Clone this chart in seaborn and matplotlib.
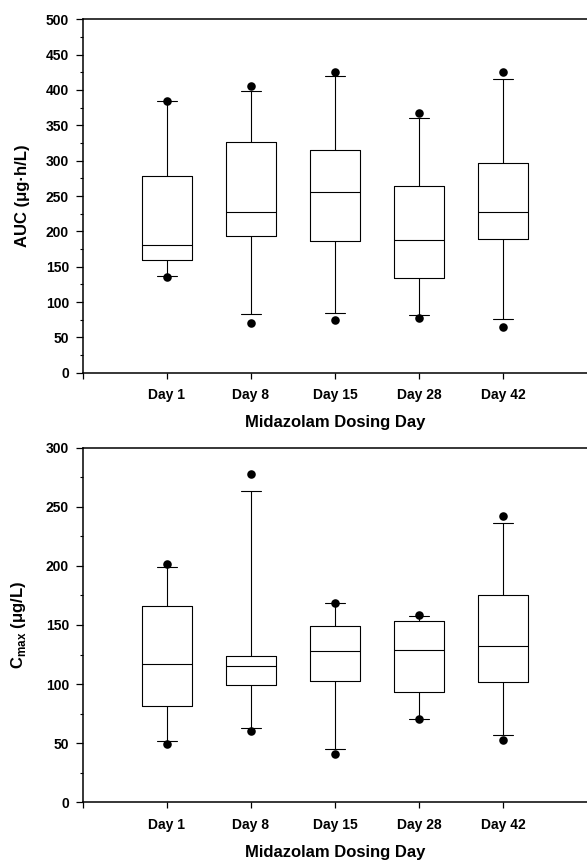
import numpy as np
import pandas as pd
import matplotlib
matplotlib.use("Agg")
import matplotlib.pyplot as plt
from matplotlib.ticker import MultipleLocator
import seaborn as sns

# values (percentiles per dosing day)
days = ["Day 1", "Day 8", "Day 15", "Day 28", "Day 42"]

auc_p5 = [136, 71, 75, 78, 65]
auc_p10 = [137, 83, 84, 82, 76]
auc_q1 = [159, 193, 187, 134, 189]
auc_med = [180, 228, 255, 188, 227]
auc_q3 = [279, 326, 315, 264, 297]
auc_p90 = [384, 399, 420, 361, 415]
auc_p95 = [385, 406, 425, 368, 425]

cmax_p5 = [49.6, 60.6, 41, 70.2, 52.6]
cmax_p10 = [51.6, 63, 45.4, 70.8, 57]
cmax_q1 = [81.5, 99, 103, 93, 101.5]
cmax_med = [117, 115, 127.7, 128.8, 132]
cmax_q3 = [166, 124, 149.5, 153.7, 175]
cmax_p90 = [199, 263, 168.5, 157.6, 236]
cmax_p95 = [201.6, 278, 169, 158.4, 242.6]

sns.set_theme(style="ticks")
plt.rcParams["font.family"] = ["Liberation Sans", "DejaVu Sans"]
plt.rcParams["font.weight"] = "bold"
plt.rcParams["mathtext.fontset"] = "custom"
plt.rcParams["mathtext.rm"] = "Liberation Sans:bold"
plt.rcParams["mathtext.bf"] = "Liberation Sans:bold"
for k in ["text.color", "axes.labelcolor", "xtick.color", "ytick.color"]:
    plt.rcParams[k] = "black"


def box_panel(ax, p5, p10, q1, med, q3, p90, p95, ylim, ylabel, ylabel_x):
    pos = np.arange(len(days))
    stats = []
    for i in range(len(days)):
        stats.append({"med": med[i], "q1": q1[i], "q3": q3[i],
                      "whislo": p10[i], "whishi": p90[i], "fliers": []})
    line = dict(color="black", linewidth=0.8)
    ax.bxp(stats, positions=pos, widths=0.6, capwidths=0.23,
           showfliers=False, boxprops=line, whiskerprops=line,
           capprops=line, medianprops=line)

    fl = pd.DataFrame({"pos": np.concatenate([pos, pos]),
                       "val": np.concatenate([p5, p95])})
    sns.scatterplot(data=fl, x="pos", y="val", ax=ax, color="black",
                    s=38, edgecolor="black", linewidth=0, zorder=3, legend=False)

    ax.set_xlim(-1, 5)
    ax.set_ylim(*ylim)
    ax.set_xticks(np.arange(-1, len(days)))
    ax.set_xticklabels([""] + days, fontsize=10, fontweight="bold")
    ax.yaxis.set_major_locator(MultipleLocator(50))
    ax.yaxis.set_minor_locator(MultipleLocator(25))
    for lab in ax.get_yticklabels():
        lab.set_fontsize(10)
        lab.set_fontweight("bold")
    ax.tick_params(axis="y", which="major", length=5, width=0.9, pad=5, direction="out")
    ax.tick_params(axis="y", which="minor", length=2.5, width=0.8, direction="out")
    ax.tick_params(axis="x", which="major", length=4, width=0.9, pad=7, direction="out")

    for s in ["left", "bottom", "top"]:
        ax.spines[s].set_linewidth(1.1)
        ax.spines[s].set_color("black")
    ax.spines["right"].set_visible(False)

    ax.set_xlabel("Midazolam Dosing Day", fontsize=12, fontweight="bold")
    ax.xaxis.set_label_coords(0.5, -0.12)
    ax.set_ylabel(ylabel, fontsize=12, fontweight="bold")
    ax.yaxis.label.set_va("center")
    ax.yaxis.set_label_coords(ylabel_x, 0.5)
    ax.set_facecolor("white")


fig = plt.figure(figsize=(5.87, 8.6), dpi=100)
ax1 = fig.add_axes([83 / 587, 1 - 372.7 / 860, 1 - 83 / 587, 353.4 / 860])
ax2 = fig.add_axes([83 / 587, 1 - 802.3 / 860, 1 - 83 / 587, 354.6 / 860])

box_panel(ax1, auc_p5, auc_p10, auc_q1, auc_med, auc_q3, auc_p90, auc_p95,
          (0, 500), "AUC (\u03bcg\u00b7h/L)", -0.12)
box_panel(ax2, cmax_p5, cmax_p10, cmax_q1, cmax_med, cmax_q3, cmax_p90, cmax_p95,
          (0, 300), "C$_{\\mathbf{max}}$ (\u03bcg/L)", -0.128)

fig.savefig("out.png", dpi=100, facecolor="white")
